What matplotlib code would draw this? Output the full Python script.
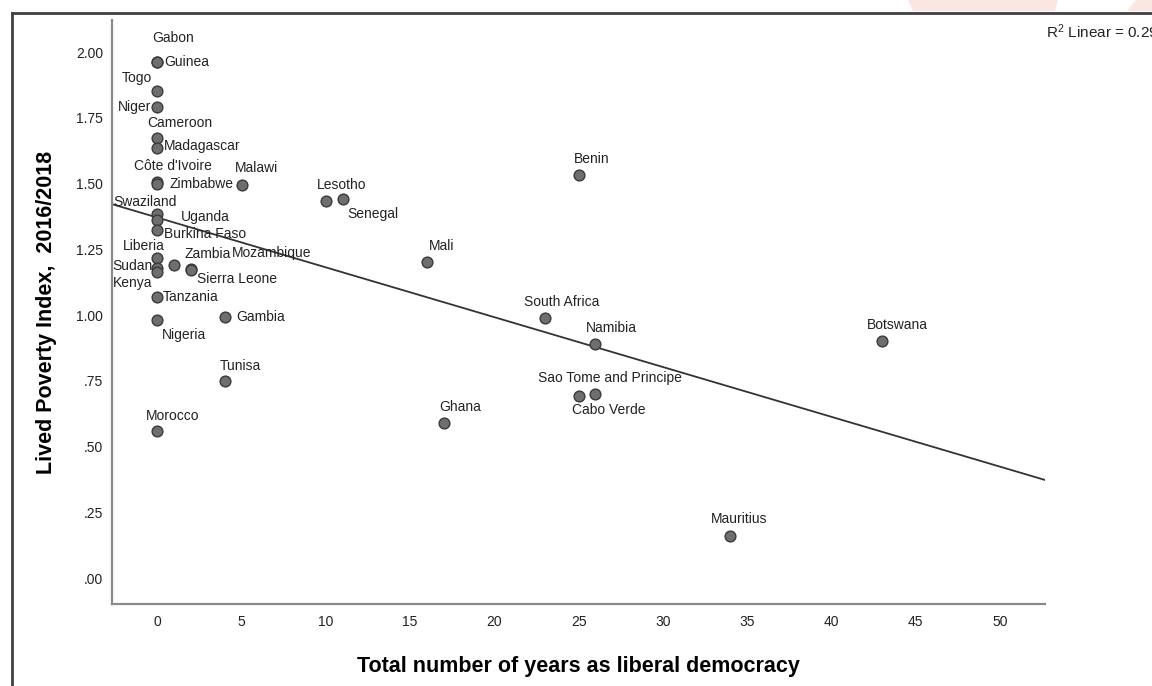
import numpy as np
import matplotlib
matplotlib.use("Agg")
import matplotlib.pyplot as plt
from matplotlib.lines import Line2D
from matplotlib.patches import Polygon

plt.rcParams["font.family"] = ["Liberation Sans", "DejaVu Sans"]

countries = ["Gabon", "Guinea", "Togo", "Niger", "Cameroon", "Madagascar",
             "Côte d'Ivoire", "Zimbabwe", "Malawi", "Lesotho", "Senegal",
             "Swaziland", "Uganda", "Burkina Faso", "Liberia", "Zambia",
             "Mozambique", "Sierra Leone", "Sudan", "Kenya", "Tanzania",
             "Nigeria", "Gambia", "Tunisa", "Morocco", "Benin", "Mali",
             "South Africa", "Namibia", "Sao Tome and Principe", "Cabo Verde",
             "Ghana", "Botswana", "Mauritius"]
years_democracy = [0, 0, 0, 0, 0, 0,
                   0, 0, 5, 10, 11,
                   0, 0, 0, 0, 1,
                   2, 2, 0, 0, 0,
                   0, 4, 4, 0, 25, 16,
                   23, 26, 25, 26,
                   17, 43, 34]
lived_poverty = [1.962, 1.962, 1.852, 1.791, 1.673, 1.635,
                 1.506, 1.500, 1.494, 1.433, 1.440,
                 1.384, 1.361, 1.323, 1.217, 1.190,
                 1.175, 1.171, 1.179, 1.163, 1.068,
                 0.981, 0.992, 0.749, 0.559, 1.532, 1.201,
                 0.989, 0.890, 0.692, 0.700,
                 0.589, 0.901, 0.160]

y_ticks = [0.0, 0.25, 0.5, 0.75, 1.0, 1.25, 1.5, 1.75, 2.0]
y_tick_labels = [".00", ".25", ".50", ".75", "1.00", "1.25", "1.50", "1.75", "2.00"]
x_ticks = [0, 5, 10, 15, 20, 25, 30, 35, 40, 45, 50]

# label placement: offset in pixels from the marker, and alignment
label_pos = {
    "Gabon": (16, 24, "center"), "Guinea": (7, 0, "left"),
    "Togo": (-20, 13, "center"), "Niger": (-6, 0, "right"),
    "Cameroon": (22, 15, "center"), "Madagascar": (7, 2, "left"),
    "Côte d'Ivoire": (16, 16, "center"), "Zimbabwe": (12, 0, "left"),
    "Malawi": (15, 17, "center"), "Lesotho": (16, 16, "center"),
    "Senegal": (30, -15, "center"), "Swaziland": (-12, 12, "center"),
    "Uganda": (24, 3, "left"), "Burkina Faso": (7, -4, "left"),
    "Liberia": (-14, 12, "center"), "Zambia": (33, 11, "center"),
    "Mozambique": (81, 16, "center"), "Sierra Leone": (46, -9, "center"),
    "Sudan": (-5, 2, "right"), "Kenya": (-5, -11, "right"),
    "Tanzania": (5, 0, "left"), "Nigeria": (27, -15, "center"),
    "Gambia": (11, 0, "left"), "Tunisa": (16, 15, "center"),
    "Morocco": (15, 15, "center"), "Benin": (13, 16, "center"),
    "Mali": (15, 16, "center"), "South Africa": (17, 16, "center"),
    "Namibia": (16, 16, "center"), "Sao Tome and Principe": (31, 18, "center"),
    "Cabo Verde": (13, -16, "center"), "Ghana": (16, 16, "center"),
    "Botswana": (15, 16, "center"), "Mauritius": (9, 17, "center"),
}

x = np.array(years_democracy, dtype=float)
y = np.array(lived_poverty)
slope, intercept = np.polyfit(x, y, 1)
r2 = np.corrcoef(x, y)[0, 1] ** 2

fig = plt.figure(figsize=(11.52, 6.86), dpi=100)
W, H = 1152, 686

def fpt(px, py):
    # pixel position (from top-left) to figure fraction
    return [px / W, 1 - py / H]

# outer frame and faint background shapes above it
fig.add_artist(Polygon([fpt(908, 0), fpt(1058, 0), fpt(1055, 11), fpt(913, 11)],
                       closed=True, transform=fig.transFigure, facecolor="#fce6e2",
                       edgecolor="none", zorder=0))
fig.add_artist(Polygon([fpt(1136, 0), fpt(1152, 0), fpt(1152, 11), fpt(1127, 11)],
                       closed=True, transform=fig.transFigure, facecolor="#fce6e2",
                       edgecolor="none", zorder=0))
fig.add_artist(Line2D([11.5 / W, 1], [1 - 12.5 / H, 1 - 12.5 / H], transform=fig.transFigure,
                      color="#404040", lw=2))
fig.add_artist(Line2D([11.5 / W, 11.5 / W], [0, 1 - 12.5 / H], transform=fig.transFigure,
                      color="#404040", lw=2))

ax = fig.add_axes([111.7 / W, (H - 604.3) / H, (1045 - 111.7) / W, (604.3 - 20) / H])
ax.set_xlim(-2.71, 52.68)
ax.set_ylim(-0.100, 2.122)

xs = np.array(ax.get_xlim())
ax.plot(xs, intercept + slope * xs, color="#333333", lw=1.3, zorder=2)

ax.scatter(x, y, s=60, facecolor="#6e6e6e", edgecolor="#3a3a3a", linewidth=1.0, zorder=3)

for name, xi, yi in zip(countries, years_democracy, lived_poverty):
    dx, dy, ha = label_pos[name]
    ax.annotate(name, (xi, yi), xytext=(dx, dy), textcoords="offset pixels",
                ha=ha, va="center", fontsize=10, color="#222222", zorder=4)

ax.set_xticks(x_ticks)
ax.set_yticks(y_ticks)
ax.set_yticklabels(y_tick_labels)
ax.tick_params(length=0, labelsize=10, labelcolor="#222222")
ax.tick_params(axis="x", pad=8)
ax.tick_params(axis="y", pad=6)

for side in ["top", "right"]:
    ax.spines[side].set_visible(False)
for side in ["left", "bottom"]:
    ax.spines[side].set_color("#8a8a8a")
    ax.spines[side].set_linewidth(1.6)

ax.set_xlabel("Total number of years as liberal democracy", fontsize=15.5, fontweight="bold", labelpad=19)
ax.set_ylabel("Lived Poverty Index,  2016/2018", fontsize=15.5, fontweight="bold", labelpad=14)

fig.text(1046 / W, 1 - 32 / H, r"$\mathregular{R^2}$ Linear = %.3f" % r2, fontsize=11,
         color="#222222", ha="left", va="center")

fig.savefig("out.png", dpi=100)
